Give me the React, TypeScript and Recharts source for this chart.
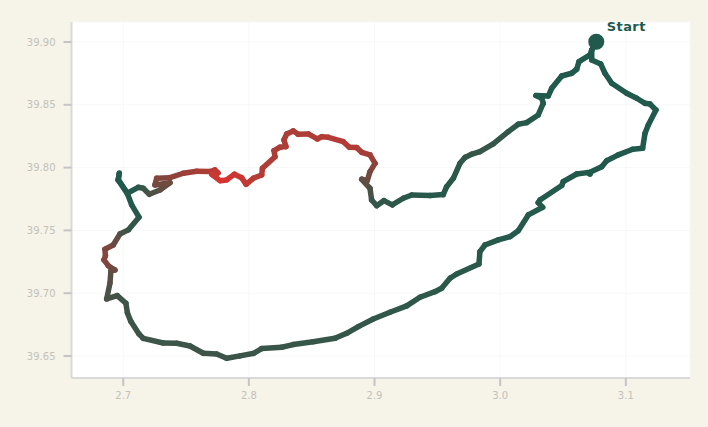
import React from "react";
import { LineChart, Line, XAxis, YAxis, CartesianGrid, ReferenceDot } from "recharts";

const lon = [3.0765,3.0729,3.0729,3.08,3.0834,3.0888,3.1007,3.1087,3.1153,3.1192,3.124,3.1179,3.1153,3.1134,3.1055,3.094,3.0848,3.0808,3.0715,3.0715,3.0693,3.0609,3.0502,3.049,3.0317,3.0303,3.0338,3.0224,3.0144,3.0078,2.9985,2.9879,2.9839,2.9831,2.9654,2.9601,2.9534,2.9481,2.9362,2.9256,2.9123,2.899,2.8871,2.8778,2.8685,2.8512,2.8353,2.8261,2.8102,2.804,2.7929,2.7823,2.7743,2.7637,2.7531,2.7425,2.7318,2.7159,2.7125,2.7061,2.7033,2.7021,2.6952,2.6868,2.6894,2.6902,2.6934,2.6881,2.6846,2.6858,2.6854,2.692,2.6974,2.704,2.7125,2.7067,2.7032,2.696,2.6968,2.696,2.7032,2.7119,2.7159,2.7207,2.7292,2.7372,2.7252,2.7266,2.7372,2.7478,2.7584,2.769,2.773,2.7754,2.7706,2.777,2.7823,2.7884,2.7942,2.7977,2.8035,2.8102,2.8108,2.8208,2.82,2.8247,2.8295,2.8279,2.8301,2.8353,2.8393,2.8473,2.8544,2.8579,2.8632,2.8751,2.8799,2.8858,2.8898,2.8964,2.9004,2.8964,2.8942,2.8898,2.8964,2.8977,2.9017,2.9075,2.9141,2.9229,2.9296,2.9441,2.9547,2.9574,2.9627,2.968,2.972,2.9776,2.9839,2.9945,3.0065,3.0144,3.0211,3.0303,3.0343,3.0331,3.0285,3.0383,3.041,3.049,3.0569,3.0609,3.0627,3.0715,3.0729,3.0765];
const lat = [39.9002,39.8936,39.8857,39.8825,39.8751,39.8671,39.8592,39.8552,39.8512,39.8506,39.8459,39.8339,39.8273,39.8154,39.8146,39.8101,39.8055,39.8007,39.7963,39.7949,39.796,39.7949,39.7888,39.7858,39.7742,39.7721,39.7684,39.7623,39.7498,39.745,39.7424,39.7384,39.7331,39.7233,39.7153,39.7119,39.7039,39.7012,39.6968,39.6899,39.6848,39.6795,39.6734,39.6681,39.6641,39.6614,39.6591,39.657,39.6559,39.6522,39.6501,39.6482,39.6516,39.6522,39.658,39.6602,39.6604,39.6641,39.6676,39.6774,39.6843,39.692,39.6981,39.6954,39.7079,39.718,39.7185,39.7219,39.7265,39.7297,39.735,39.7384,39.7472,39.7504,39.7605,39.7703,39.7796,39.7902,39.7955,39.7902,39.7796,39.7843,39.7835,39.7788,39.7822,39.788,39.7862,39.7915,39.792,39.7955,39.7971,39.7968,39.7981,39.7957,39.7945,39.7896,39.7902,39.7947,39.792,39.7867,39.7915,39.7941,39.7995,39.8087,39.8135,39.8162,39.8167,39.822,39.8268,39.8292,39.8265,39.8268,39.8228,39.8246,39.8241,39.8206,39.8162,39.8159,39.8122,39.8101,39.8034,39.7968,39.7896,39.7907,39.7835,39.7742,39.7697,39.7737,39.7703,39.7756,39.7782,39.7777,39.7785,39.7848,39.7915,39.8034,39.8081,39.8108,39.8127,39.8188,39.8286,39.8345,39.8358,39.8419,39.8512,39.8552,39.8573,39.857,39.8631,39.8729,39.8751,39.8783,39.8843,39.8897,39.8936,39.9002];
const heat = [0,0,0,0,0,0,0,0,0,0,0,0,0,0,0,0,0,0,0,0,0,0,0,0,0.01,0.01,0.01,0.01,0.02,0.02,0.03,0.03,0.04,0.05,0.05,0.05,0.06,0.06,0.07,0.07,0.08,0.09,0.1,0.1,0.11,0.11,0.12,0.12,0.13,0.13,0.14,0.15,0.15,0.15,0.15,0.15,0.15,0.15,0.15,0.15,0.15,0.16,0.17,0.2,0.25,0.35,0.38,0.45,0.55,0.57,0.55,0.45,0.3,0.15,0.05,0,0,0,0,0,0,0.03,0.1,0.2,0.3,0.4,0.45,0.5,0.55,0.65,0.7,0.78,0.8,0.9,0.85,1,1,0.95,0.9,0.9,0.85,0.8,0.78,0.75,0.75,0.75,0.75,0.75,0.75,0.75,0.75,0.75,0.78,0.78,0.8,0.8,0.8,0.78,0.75,0.7,0.65,0.5,0.4,0.4,0.3,0.15,0.1,0.09,0.08,0.06,0.05,0.04,0.04,0.04,0.05,0.07,0.09,0.1,0.11,0.11,0.09,0.06,0.04,0.02,0.01,0,0,0,0,0,0,0,0,0,0,0,0];

const xTicks = [2.7, 2.8, 2.9, 3.0, 3.1];
const yTicks = [39.65, 39.7, 39.75, 39.8, 39.85, 39.9];
const startLabel = "Start";

const GREEN = [33, 90, 76];
const RED = [217, 52, 48];
const colorOf = (t: number) => {
  const c = GREEN.map((g, i) => Math.round(g + (RED[i] - g) * t));
  return `rgb(${c[0]},${c[1]},${c[2]})`;
};

const points = lon.map((x, i) => ({ lon: x, lat: lat[i], heat: heat[i] }));
const segments = points.slice(1).map((p, i) => ({
  data: [points[i], p],
  color: colorOf((points[i].heat + p.heat) / 2),
}));

const tickStyle = { fontSize: 10, fill: "#c2c2ba", fontFamily: "DejaVu Sans" };

export default function App() {
  return (
    <div style={{ position: "absolute", left: 0, top: 0, width: 708, height: 427, background: "#f6f3e9", overflow: "hidden" }}>
      <LineChart width={708} height={427} margin={{ top: 22, right: 18, bottom: 0, left: 0 }} data={points}>
        <CartesianGrid fill="#ffffff" stroke="#f8f8f8" />
        <XAxis
          type="number"
          dataKey="lon"
          domain={[2.6588, 3.1511]}
          allowDataOverflow
          ticks={xTicks}
          tickFormatter={(v: number) => v.toFixed(1)}
          height={49}
          tick={tickStyle}
          tickSize={8}
          tickMargin={6}
          tickLine={{ stroke: "#c4c4c4", strokeWidth: 2 }}
          axisLine={{ stroke: "#d9d9d9", strokeWidth: 2 }}
        />
        <YAxis
          type="number"
          dataKey="lat"
          domain={[39.6325, 39.9159]}
          allowDataOverflow
          ticks={yTicks}
          tickFormatter={(v: number) => v.toFixed(2)}
          width={71.5}
          tick={tickStyle}
          tickSize={8}
          tickMargin={8}
          tickLine={{ stroke: "#c4c4c4", strokeWidth: 2 }}
          axisLine={{ stroke: "#d9d9d9", strokeWidth: 2 }}
        />
        {segments.map((s, i) => (
          <Line
            key={i}
            data={s.data}
            dataKey="lat"
            type="linear"
            stroke={s.color}
            strokeWidth={5.5}
            strokeLinecap="round"
            strokeLinejoin="round"
            dot={false}
            activeDot={false}
            legendType="none"
            isAnimationActive={false}
          />
        ))}
        <ReferenceDot
          x={lon[0]}
          y={lat[0]}
          r={8}
          fill={colorOf(0)}
          stroke="none"
          ifOverflow="visible"
          label={(props: any) => (
            <text
              x={props.viewBox.x + props.viewBox.width / 2 + 10.5}
              y={props.viewBox.y + props.viewBox.height / 2 - 10.5}
              fill={colorOf(0)}
              fontSize={13}
              fontWeight={700}
              fontFamily="DejaVu Sans"
              letterSpacing={0.4}
            >
              {startLabel}
            </text>
          )}
        />
      </LineChart>
    </div>
  );
}
